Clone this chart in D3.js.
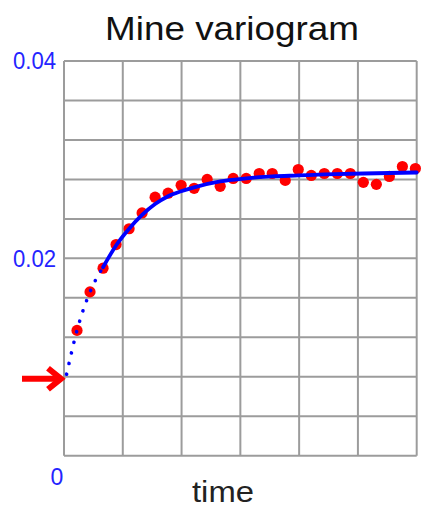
<!DOCTYPE html>
<html>
<head>
<meta charset="utf-8">
<script src="https://cdn.jsdelivr.net/npm/d3@7"></script>
<style>
  html, body { margin: 0; padding: 0; background: #fff; }
  svg { display: block; }
</style>
</head>
<body>
<script>
// Experimental semivariance, one value per lag
const lags = [1, 2, 3, 4, 5, 6, 7, 8, 9, 10, 11, 12, 13, 14, 15, 16, 17, 18, 19, 20, 21, 22, 23, 24, 25, 26, 27];
const semivariance = [0.0127, 0.0166, 0.0190, 0.0214, 0.0230, 0.0246, 0.0262, 0.0266, 0.0274, 0.0271,
                      0.0280, 0.0273, 0.0281, 0.0281, 0.0286, 0.0286, 0.0279, 0.0290, 0.0284, 0.0286,
                      0.0286, 0.0286, 0.0277, 0.0275, 0.0283, 0.0293, 0.0291];

// Fitted model curve, sampled along the lag axis
const modelLags   = [0.2, 1, 2, 3, 4, 5, 6, 7, 8, 9, 10, 12, 14, 16, 18, 20, 23, 27.1];
const modelValues = [0.00825, 0.0127, 0.0166, 0.0191, 0.0213, 0.0230, 0.0244, 0.0255, 0.0263, 0.0268,
                     0.0272, 0.0278, 0.0281, 0.0283, 0.0284, 0.0285, 0.0286, 0.0287];
const extrapolateUntil = 3;   // model drawn dotted below this lag

const nuggetMarker = 0.0078;  // arrow on the vertical axis

const yTickLabels = [0.04, 0.02];
const yGridStep = 0.004;
const xColumns = 6;
const lagMax = 27.1;

const W = 421, H = 506;
const margin = { left: 64, right: 4.3, top: 61, bottom: 50.3 };

const svg = d3.select("body").append("svg")
  .attr("width", W).attr("height", H);

const x = d3.scaleLinear().domain([0, lagMax]).range([margin.left, W - margin.right]);
const y = d3.scaleLinear().domain([0, 0.04]).range([H - margin.bottom, margin.top]);

// grid
const gridColor = "#9c9c9c";
const g = svg.append("g");
const xGrid = d3.range(xColumns + 1).map(i => i * lagMax / xColumns);
const yGrid = d3.range(0, 0.04 + 1e-9, yGridStep);
g.selectAll("line.v").data(xGrid).join("line")
  .attr("x1", d => x(d)).attr("x2", d => x(d))
  .attr("y1", y(0)).attr("y2", y(0.04))
  .attr("stroke", gridColor).attr("stroke-width", 2);
g.selectAll("line.h").data(yGrid).join("line")
  .attr("y1", d => y(d)).attr("y2", d => y(d))
  .attr("x1", x(0)).attr("x2", x(lagMax))
  .attr("stroke", gridColor).attr("stroke-width", 2);

// axis labels
const labelColor = "#2424ff";
svg.selectAll("text.ytick").data(yTickLabels).join("text")
  .attr("x", 56).attr("y", d => y(d))
  .attr("dy", "0.36em")
  .attr("text-anchor", "end")
  .attr("font-family", "Liberation Sans, Arial, sans-serif")
  .attr("font-size", 23)
  .attr("textLength", 43).attr("lengthAdjust", "spacingAndGlyphs")
  .attr("fill", labelColor)
  .text(d => d3.format(".2f")(d));

svg.append("text")
  .attr("x", x(0) - 7).attr("y", y(0) + 29)
  .attr("text-anchor", "middle")
  .attr("font-family", "Liberation Sans, Arial, sans-serif")
  .attr("font-size", 23)
  .attr("fill", labelColor)
  .text("0");

// title and axis name
svg.append("text")
  .attr("x", 105).attr("y", 39.5)
  .attr("font-family", "Liberation Sans, Arial, sans-serif")
  .attr("font-size", 33)
  .attr("textLength", 254).attr("lengthAdjust", "spacingAndGlyphs")
  .attr("fill", "#111")
  .text("Mine variogram");

svg.append("text")
  .attr("x", 192).attr("y", 501.5)
  .attr("font-family", "Liberation Sans, Arial, sans-serif")
  .attr("font-size", 30)
  .attr("textLength", 62).attr("lengthAdjust", "spacingAndGlyphs")
  .attr("fill", "#222")
  .text("time");

// experimental points
svg.append("g").selectAll("circle").data(lags).join("circle")
  .attr("cx", (d) => x(d))
  .attr("cy", (d, i) => y(semivariance[i]))
  .attr("r", 5.6)
  .attr("fill", "#ff0000");

// model curve
const model = modelLags.map((t, i) => ({ t, v: modelValues[i] }));
const line = d3.line().x(d => x(d.t)).y(d => y(d.v)).curve(d3.curveMonotoneX);

svg.append("path")
  .datum(model.filter(d => d.t <= extrapolateUntil))
  .attr("d", line)
  .attr("fill", "none")
  .attr("stroke", "#0000ff")
  .attr("stroke-width", 3.6)
  .attr("stroke-linecap", "round")
  .attr("stroke-dasharray", "0.1 10.8");

svg.append("path")
  .datum(model.filter(d => d.t >= extrapolateUntil))
  .attr("d", line)
  .attr("fill", "none")
  .attr("stroke", "#0000ff")
  .attr("stroke-width", 3.8)
  .attr("stroke-linecap", "round");

// nugget arrow
const ay = y(nuggetMarker);
const tipX = x(0) - 3;
const arrow = svg.append("g")
  .attr("stroke", "#ff0000").attr("stroke-width", 6).attr("fill", "none");
arrow.append("line")
  .attr("x1", 22).attr("x2", tipX - 4)
  .attr("y1", ay).attr("y2", ay);
arrow.append("polyline")
  .attr("points", [[tipX - 13, ay - 10.5], [tipX, ay], [tipX - 13, ay + 10.5]].map(p => p.join(",")).join(" "))
  .attr("stroke-linejoin", "miter");
</script>
</body>
</html>
